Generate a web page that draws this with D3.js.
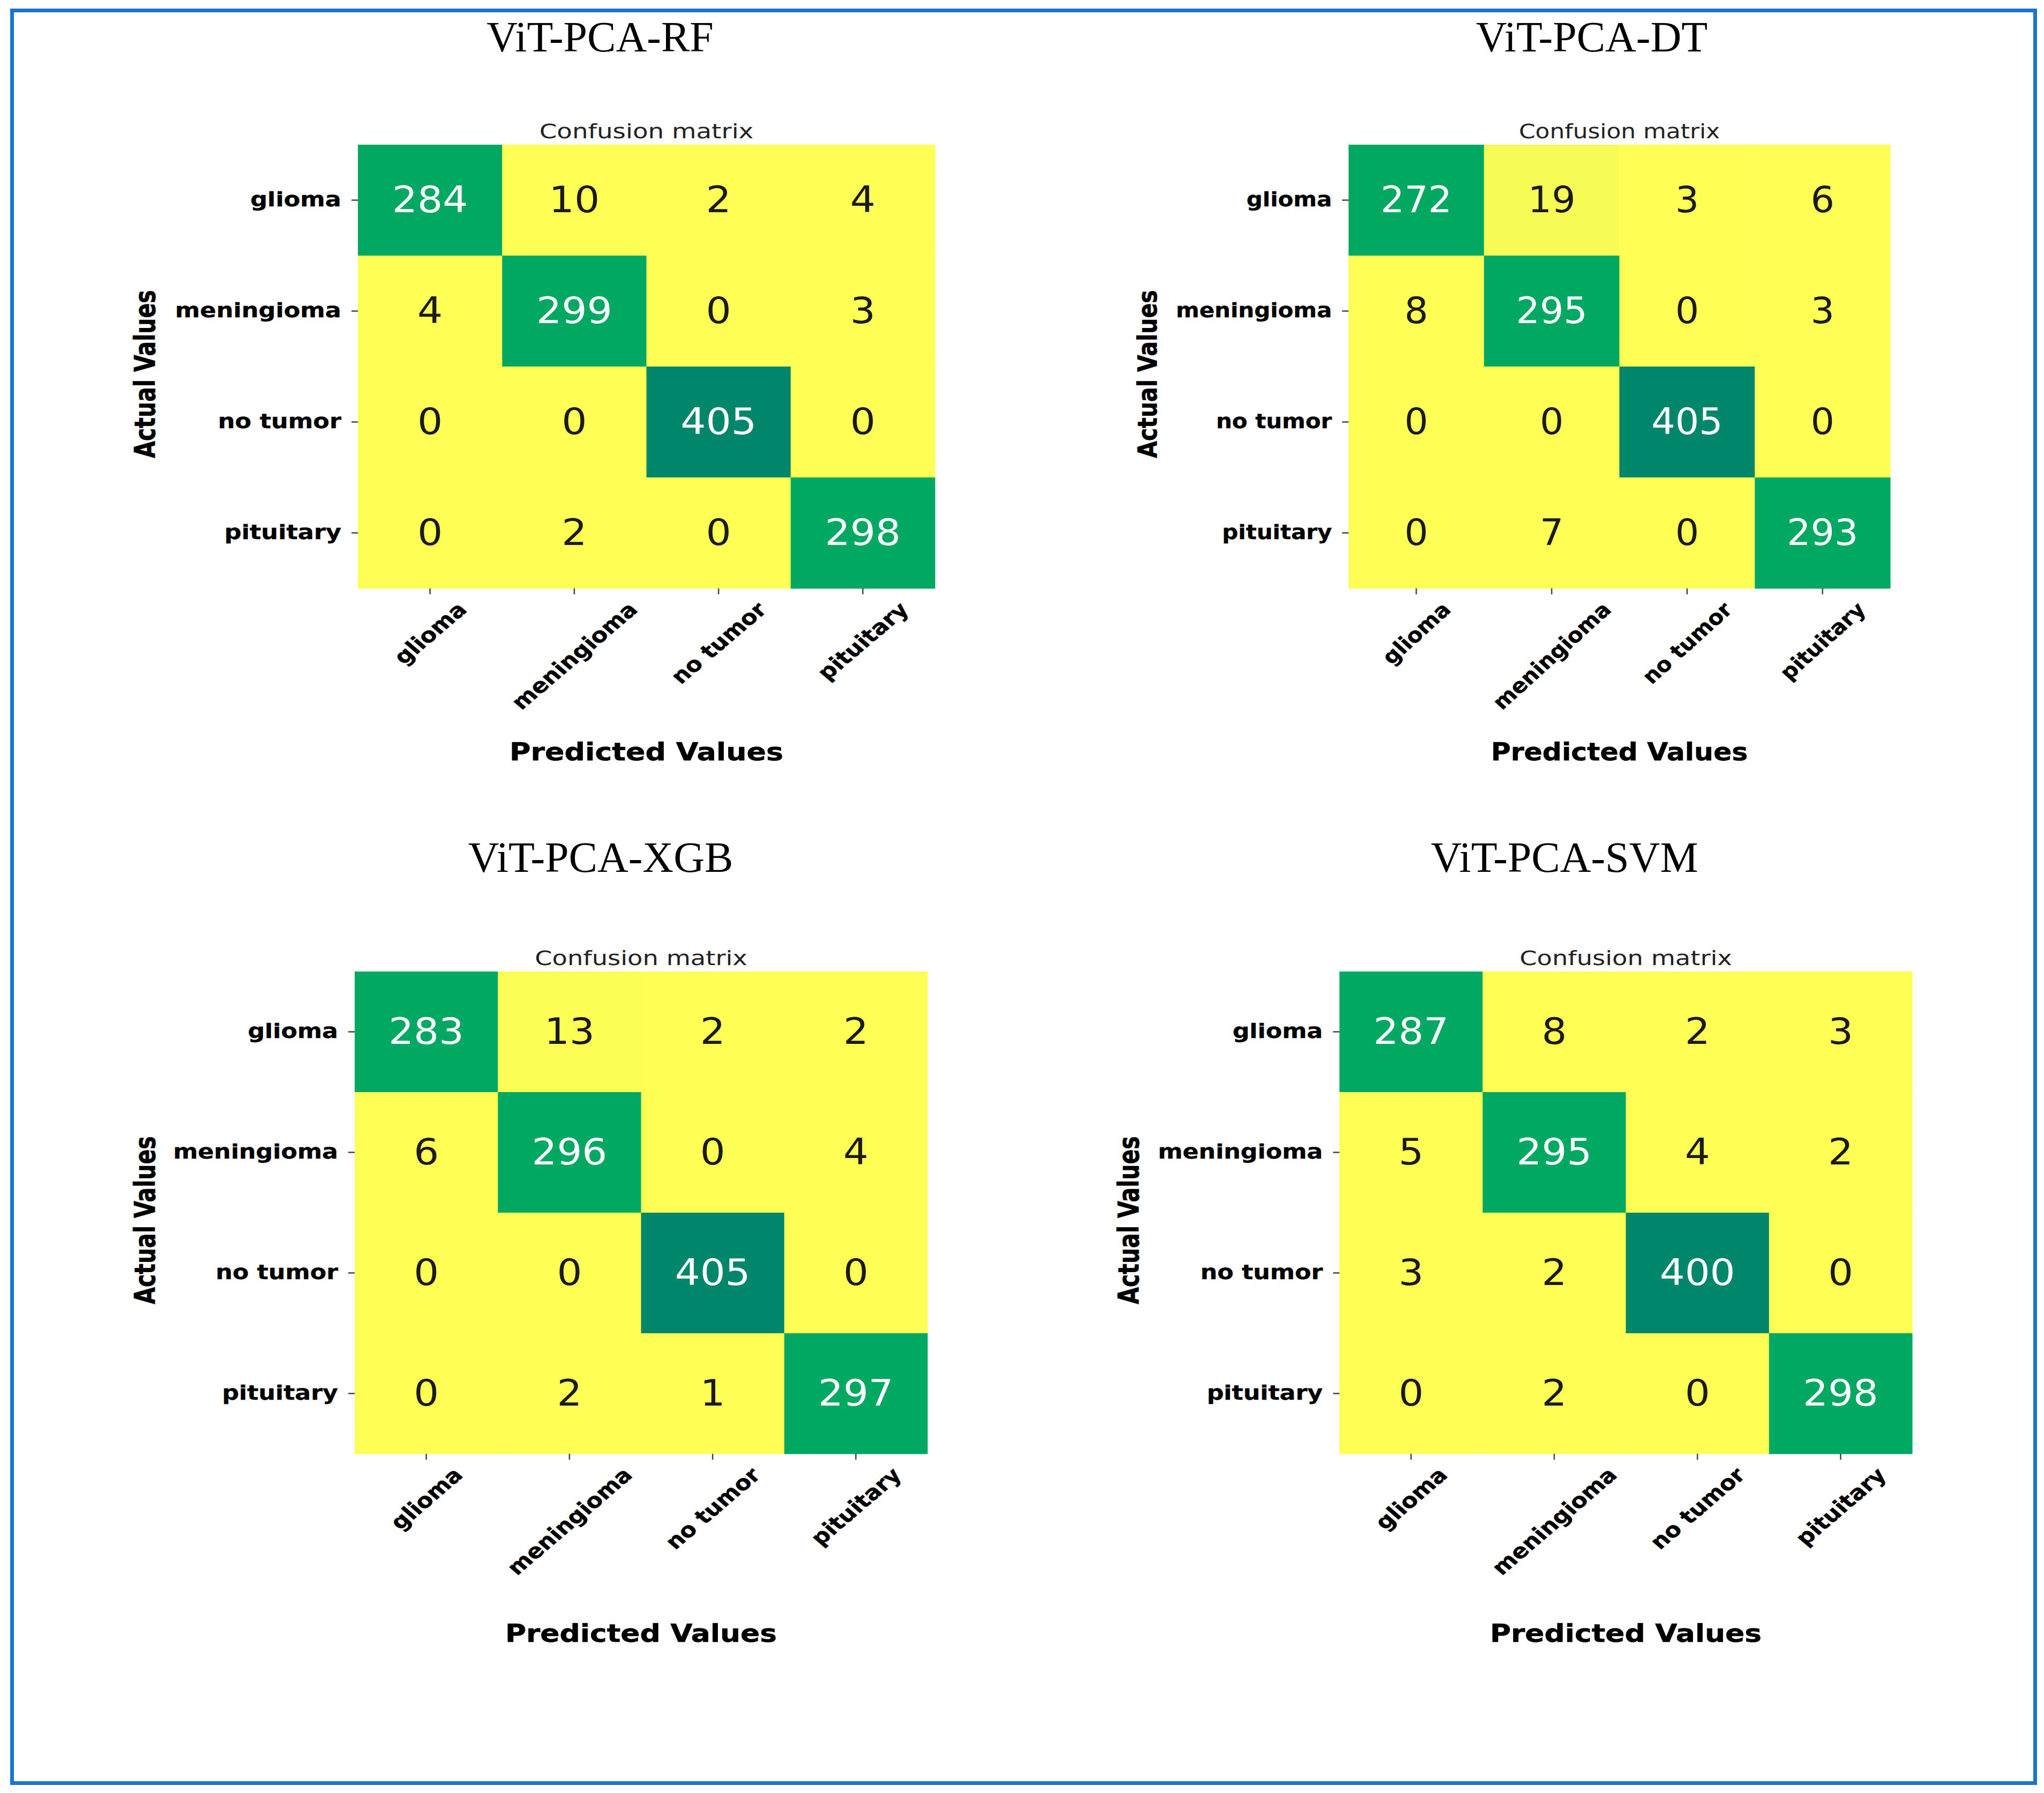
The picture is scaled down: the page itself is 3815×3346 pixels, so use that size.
<!DOCTYPE html>
<html>
<head>
<meta charset="utf-8">
<script src="https://cdn.jsdelivr.net/npm/d3@7"></script>
<style>
  html, body { margin: 0; padding: 0; background: #ffffff; }
  svg { display: block; }
</style>
</head>
<body>
<script>
// ---------------- data ----------------
const categories = ["glioma", "meningioma", "no tumor", "pituitary"];
const titles = ["ViT-PCA-RF", "ViT-PCA-DT", "ViT-PCA-XGB", "ViT-PCA-SVM"];
const rfValues  = [[284, 10, 2, 4], [4, 299, 0, 3], [0, 0, 405, 0], [0, 2, 0, 298]];
const dtValues  = [[272, 19, 3, 6], [8, 295, 0, 3], [0, 0, 405, 0], [0, 7, 0, 293]];
const xgbValues = [[283, 13, 2, 2], [6, 296, 0, 4], [0, 0, 405, 0], [0, 2, 1, 297]];
const svmValues = [[287, 8, 2, 3], [5, 295, 4, 2], [3, 2, 400, 0], [0, 2, 0, 298]];
const subTitle = "Confusion matrix";
const xAxisLabel = "Predicted Values";
const yAxisLabel = "Actual Values";

// ---------------- layout ----------------
const W = 3815, H = 3346;
const layouts = [
  { left: 668,  right: 1745, top: 270,  bottom: 1098, titleX: 1120, titleY: 96,   ylabX: 270,  xlabY: 1419 },
  { left: 2517, right: 3528, top: 270,  bottom: 1098, titleX: 2971, titleY: 96,   ylabX: 2141, xlabY: 1419 },
  { left: 662,  right: 1731, top: 1813, bottom: 2713, titleX: 1121, titleY: 1627, ylabX: 270,  xlabY: 3064 },
  { left: 2500, right: 3569, top: 1813, bottom: 2713, titleX: 2920, titleY: 1627, ylabX: 2106, xlabY: 3064 }
];
const matrices = [rfValues, dtValues, xgbValues, svmValues];

const SANS = "'DejaVu Sans', sans-serif";
const SERIF = "'Liberation Serif', 'Times New Roman', serif";

const svg = d3.select("body").append("svg")
  .attr("width", W).attr("height", H)
  .attr("viewBox", `0 0 ${W} ${H}`);

svg.append("rect").attr("width", W).attr("height", H).attr("fill", "#ffffff");

// outer blue frame
svg.append("rect")
  .attr("x", 22.5).attr("y", 19.5)
  .attr("width", 3798.5 - 22.5).attr("height", 3327.5 - 19.5)
  .attr("fill", "none").attr("stroke", "#1874CD").attr("stroke-width", 7);

const TICK_FS = 38, NUM_FS = 67;

matrices.forEach((vals, pi) => {
  const L = layouts[pi];
  const hs = (L.right - L.left) / 1077;   // horizontal stretch of this sub-figure
  const tickSx = 1.175 * hs, numSx = 1.11 * hs;
  const g = svg.append("g");

  const x = d3.scaleBand().domain(categories).range([L.left, L.right]).padding(0);
  const y = d3.scaleBand().domain(categories).range([L.top, L.bottom]).padding(0);
  const maxV = d3.max(vals.flat());
  const color = d3.scaleLinear()
    .domain([0, 0.025 * maxV, 0.66 * maxV, 0.76 * maxV, maxV])
    .range(["#FFFF55", "#FFFF55", "#00A862", "#00A862", "#00876B"])
    .clamp(true);

  const cells = [];
  vals.forEach((row, i) => row.forEach((v, j) => cells.push({ r: categories[i], c: categories[j], v })));

  // title
  svg.append("text")
    .attr("x", L.titleX).attr("y", L.titleY)
    .attr("text-anchor", "middle")
    .attr("font-family", SERIF).attr("font-size", 80)
    .attr("fill", "#000")
    .text(titles[pi]);

  // subtitle
  g.append("text")
    .attr("transform", `translate(${(L.left + L.right) / 2},${L.top - 12}) scale(${1.23 * hs},1)`)
    .attr("text-anchor", "middle")
    .attr("font-family", SANS).attr("font-size", 38)
    .attr("fill", "#222")
    .text(subTitle);

  // cells
  g.selectAll("rect.cell").data(cells).enter().append("rect")
    .attr("class", "cell")
    .attr("x", d => x(d.c)).attr("y", d => y(d.r))
    .attr("width", x.bandwidth() + 0.5).attr("height", y.bandwidth() + 0.5)
    .attr("fill", d => color(d.v));

  g.selectAll("text.num").data(cells).enter().append("text")
    .attr("class", "num")
    .attr("transform", d => `translate(${x(d.c) + x.bandwidth() / 2},${y(d.r) + y.bandwidth() / 2}) scale(${numSx},1)`)
    .attr("dy", "0.33em")
    .attr("text-anchor", "middle")
    .attr("font-family", SANS).attr("font-size", NUM_FS)
    .attr("fill", d => d.v > 0.5 * maxV ? "#ffffff" : "#1a1a1a")
    .text(d => d.v);

  // y axis
  const ya = g.append("g")
    .attr("transform", `translate(${L.left},0)`)
    .call(d3.axisLeft(y).tickSize(12).tickSizeOuter(0).tickPadding(19));
  ya.select(".domain").remove();
  ya.selectAll(".tick line").attr("stroke", "#444").attr("stroke-width", 2.5);
  ya.selectAll(".tick text")
    .attr("x", null).attr("dy", null)
    .attr("transform", `translate(-31,0) scale(${tickSx},1)`)
    .attr("y", 0).attr("dy", "0.3em")
    .attr("text-anchor", "end")
    .attr("font-family", SANS).attr("font-weight", "bold").attr("font-size", TICK_FS)
    .attr("fill", "#000").attr("stroke", "#000").attr("stroke-width", 0.4);

  // x axis
  const xa = g.append("g")
    .attr("transform", `translate(0,${L.bottom})`)
    .call(d3.axisBottom(x).tickSize(11).tickSizeOuter(0));
  xa.select(".domain").remove();
  xa.selectAll(".tick line").attr("stroke", "#444").attr("stroke-width", 2.5);
  xa.selectAll(".tick text")
    .attr("y", 0).attr("dy", "0.35em")
    .attr("text-anchor", "middle")
    .attr("font-family", SANS).attr("font-weight", "bold").attr("font-size", TICK_FS)
    .attr("fill", "#000").attr("stroke", "#000").attr("stroke-width", 0.4)
    .each(function () {
      const w = this.getComputedTextLength();
      const th = TICK_FS * 0.78;
      const h = (w + th) / Math.SQRT2;
      d3.select(this).attr("transform", `translate(0,${22 + h / 2}) scale(${tickSx},1) rotate(-45)`);
    });

  // axis labels
  g.append("text")
    .attr("transform", `translate(${(L.left + L.right) / 2},${L.xlabY}) scale(${1.17 * hs},1)`)
    .attr("text-anchor", "middle")
    .attr("font-family", SANS).attr("font-weight", "bold").attr("font-size", 46)
    .attr("fill", "#000").attr("stroke", "#000").attr("stroke-width", 0.6)
    .text(xAxisLabel);

  g.append("text")
    .attr("transform", `translate(${L.ylabX},${(L.top + L.bottom) / 2 + 14}) scale(${1.3 * hs},1) rotate(-90)`)
    .attr("text-anchor", "middle").attr("dy", "0.36em")
    .attr("font-family", SANS).attr("font-weight", "bold").attr("font-size", 41)
    .attr("fill", "#000").attr("stroke", "#000").attr("stroke-width", 0.6)
    .text(yAxisLabel);
});
</script>
</body>
</html>
